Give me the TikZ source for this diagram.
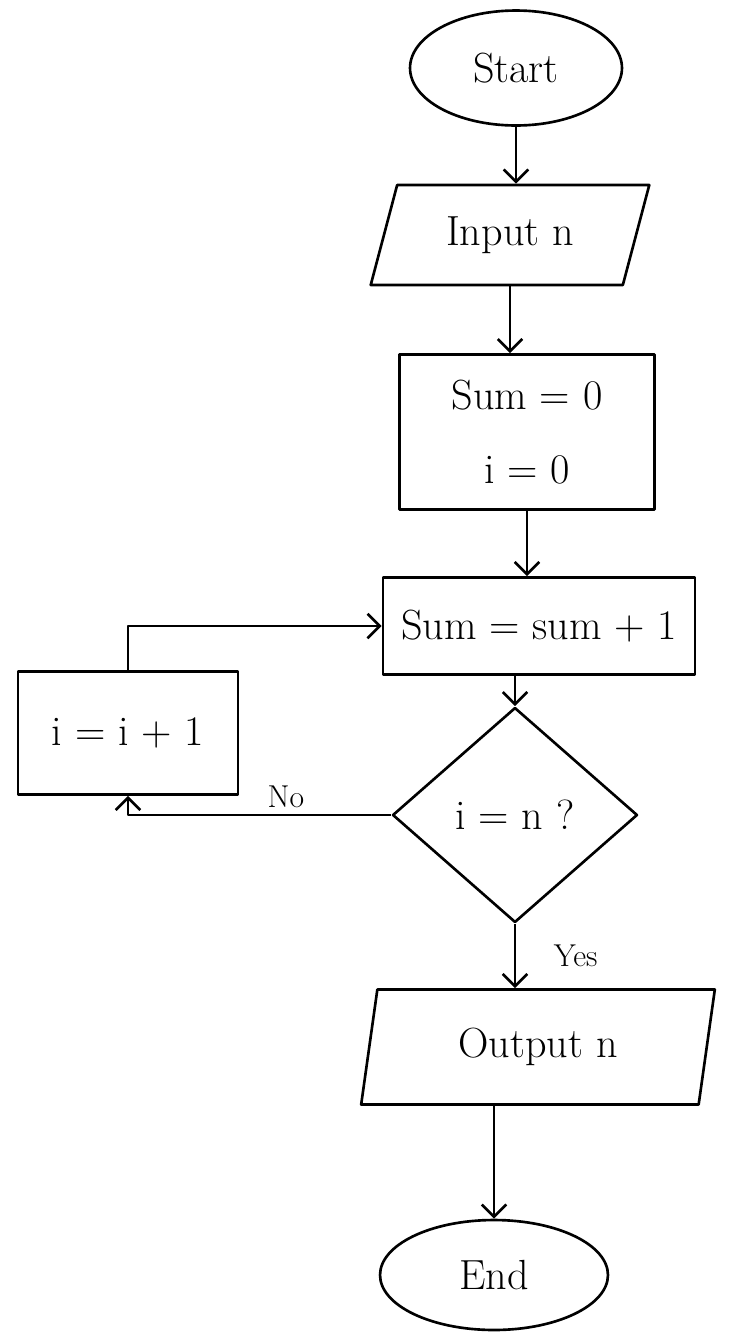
\documentclass[tikz,border=0pt]{standalone}
\usetikzlibrary{shapes.geometric,arrows.meta}

\begin{document}
\begin{tikzpicture}[x=0.02cm, y=-0.02cm, line width=1.5pt, line join=round,
  every node/.style={font=\fontsize{24}{28}\selectfont},
  terminal/.style={draw, ellipse, inner sep=0pt},
  io/.style={draw, trapezium, trapezium stretches=true, inner sep=0pt},
  process/.style={draw, rectangle, inner sep=0pt},
  decision/.style={draw, diamond, inner sep=0pt},
  lbl/.style={font=\fontsize{18}{22}\selectfont},
  arr/.style={-{Straight Barb[length=7pt,width=14pt]}}]

\useasboundingbox (0,0) rectangle (744,1333);

\node[terminal, minimum width=4.24cm, minimum height=2.3cm] (start) at (516,68) {Start};
\node[io, trapezium left angle=68, trapezium right angle=112, minimum width=5.6cm, minimum height=2cm] (input) at (510,235) {Input n};
\node[process, minimum width=5.1cm, minimum height=3.1cm, align=center] (init) at (527,432) {Sum = 0\\[0.5cm] i = 0};
\node[process, minimum width=6.24cm, minimum height=1.94cm] (upd) at (539,626) {Sum = sum + 1};
\node[decision, minimum width=4.9cm, minimum height=4.3cm] (check) at (515,815) {i = n ?};
\node[process, minimum width=4.4cm, minimum height=2.46cm] (inc) at (128,733) {i = i + 1};
\node[io, trapezium left angle=78, trapezium right angle=102, minimum width=7.1cm, minimum height=2.3cm] (output) at (538,1047) {Output n};
\node[terminal, minimum width=4.56cm, minimum height=2.2cm] (end) at (494,1275) {End};

% -------- connectors -----------
\draw[arr] (start.south) -- (start.south |- input.north);
\draw[arr] (input.south) -- (input.south |- init.north);
\draw[arr] (init.south) -- (init.south |- upd.north);
\draw[arr] (check.north |- upd.south) -- (check.north);
\draw[arr] (check.west) -| node[above, pos=0.2, lbl] {No} (inc.south);
\draw[arr] (inc.north) |- (upd.west);
\draw[arr] (check.south) -- node[right, lbl, xshift=18pt] {Yes} (check.south |- output.north);
\draw[arr] (end.north |- output.south) -- (end.north);
\end{tikzpicture}
\end{document}
